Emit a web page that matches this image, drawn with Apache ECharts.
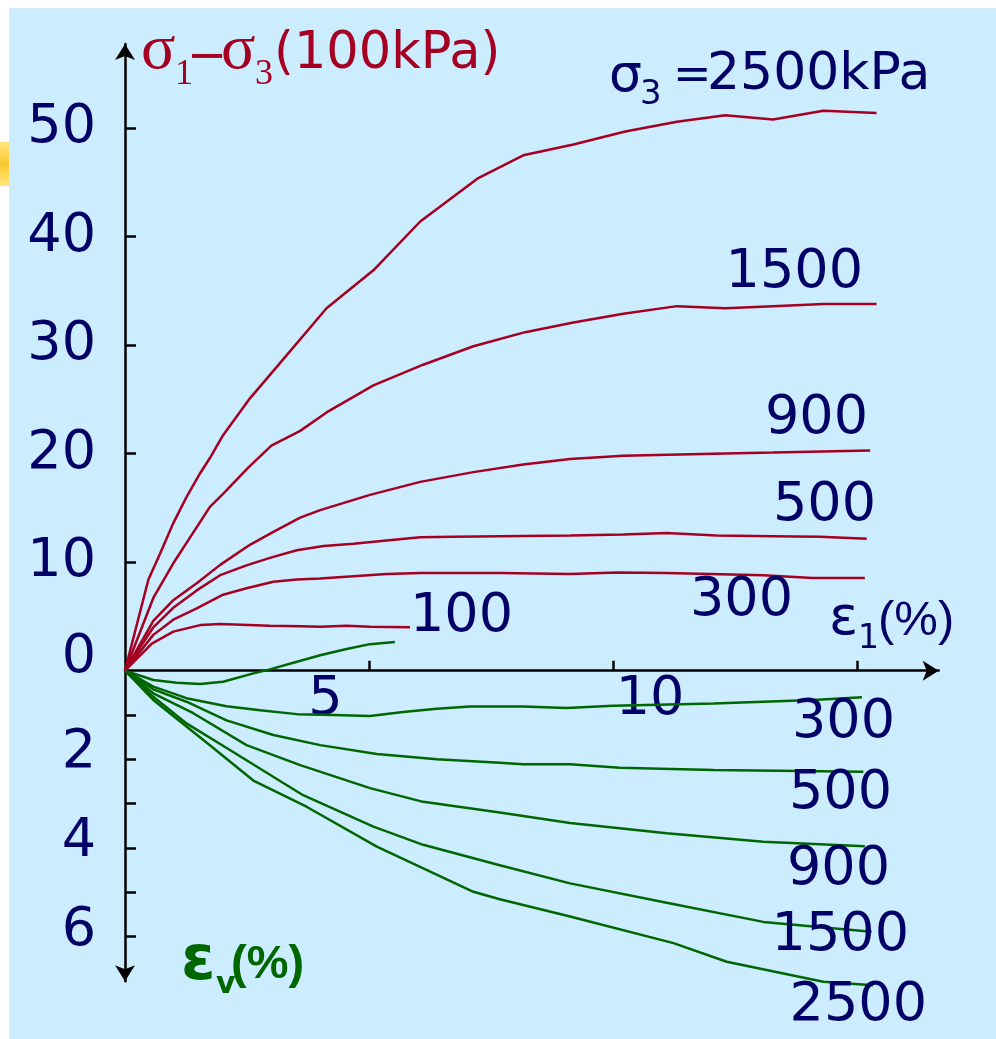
<!DOCTYPE html>
<html><head><meta charset="utf-8">
<script src="https://cdn.jsdelivr.net/npm/echarts@6/dist/echarts.min.js"></script>
<style>html,body{margin:0;padding:0;background:#fff}#c{width:996px;height:1039px}</style>
</head><body><div id="c"></div>
<script>
// ---- data: [axial strain ε1 (%), value] ----
// deviator stress σ1−σ3 (100 kPa)
const q100  = [[0,0],[0.55,2.5],[0.99,3.6],[1.54,4.2],[1.95,4.3],[2.97,4.15],[3.59,4.1],[4.0,4.05],[4.54,4.15],[5.02,4.05],[5.84,4.0]];
const q300  = [[0,0],[0.58,3.3],[0.99,4.7],[1.47,5.75],[2.01,7.0],[2.49,7.6],[3.04,8.2],[3.52,8.4],[4.0,8.5],[4.68,8.7],[5.36,8.9],[6.05,9.0],[7.68,9.0],[9.12,8.9],[10.08,9.05],[11.1,9.0],[13.08,8.8],[14.1,8.55],[15.16,8.55]];
const q500  = [[0,0],[0.58,4.0],[0.99,5.8],[1.47,7.4],[1.95,8.8],[2.49,9.7],[2.97,10.4],[3.52,11.1],[4.07,11.5],[4.68,11.7],[5.36,12.0],[6.05,12.3],[6.73,12.35],[7.68,12.4],[9.12,12.45],[10.21,12.55],[11.1,12.7],[12.12,12.45],[13.28,12.4],[14.24,12.35],[15.2,12.15]];
const q900  = [[0,0],[0.58,4.6],[0.99,6.5],[1.47,8.05],[1.95,9.75],[2.56,11.6],[3.04,12.8],[3.59,14.1],[4.0,14.8],[5.02,16.2],[6.05,17.4],[7.14,18.3],[8.16,19.0],[9.12,19.5],[10.21,19.8],[12.06,20.0],[13.28,20.1],[15.27,20.3]];
const q1500 = [[0,0],[0.58,6.7],[0.99,9.9],[1.74,15.1],[2.01,16.3],[2.52,18.7],[3.0,20.75],[3.59,22.1],[4.13,23.8],[5.09,26.3],[6.11,28.2],[7.14,29.9],[8.2,31.2],[9.19,32.1],[10.21,32.9],[11.31,33.6],[12.3,33.4],[13.28,33.6],[14.31,33.8],[15.4,33.8]];
const q2500 = [[0,0],[0.48,8.4],[0.72,10.8],[0.99,13.6],[1.26,16.0],[1.54,18.2],[1.74,19.6],[2.01,21.7],[2.56,25.1],[3.11,28.0],[4.13,33.4],[5.09,36.9],[6.05,41.4],[7.24,45.4],[8.16,47.5],[9.19,48.5],[10.25,49.7],[11.31,50.6],[12.3,51.2],[13.28,50.8],[14.31,51.6],[15.4,51.4]];
// volumetric strain εv (%), compression positive (downward)
const v100  = [[0,0],[0.58,0.21],[1.06,0.27],[1.54,0.30],[2.01,0.25],[2.63,0.06],[2.97,-0.03],[3.45,-0.18],[4.0,-0.35],[4.54,-0.49],[5.02,-0.6],[5.53,-0.65]];
const v300  = [[0,0],[0.58,0.36],[1.26,0.62],[2.08,0.80],[2.77,0.89],[3.52,0.98],[4.27,1.0],[5.02,1.02],[5.7,0.93],[6.39,0.86],[7.07,0.81],[7.68,0.81],[8.16,0.81],[9.05,0.84],[10.0,0.79],[12.06,0.74],[14.1,0.66],[15.1,0.6]];
const v500  = [[0,0],[0.58,0.42],[1.26,0.70],[2.08,1.12],[3.04,1.45],[4.0,1.68],[5.16,1.88],[6.39,2.0],[7.68,2.08],[8.16,2.11],[9.12,2.11],[10.14,2.19],[12.06,2.24],[15.13,2.28]];
const v900  = [[0,0],[0.58,0.51],[1.4,0.96],[2.49,1.68],[3.59,2.13],[5.02,2.65],[6.11,2.96],[7.68,3.2],[9.12,3.44],[11.1,3.67],[13.08,3.86],[15.16,3.96]];
const v1500 = [[0,0],[0.58,0.59],[1.26,1.19],[2.15,1.79],[3.65,2.81],[5.09,3.52],[6.11,3.93],[7.68,4.39],[9.12,4.8],[11.1,5.24],[13.08,5.67],[15.3,5.89]];
const v2500 = [[0,0],[0.58,0.66],[1.6,1.56],[2.63,2.48],[3.72,3.07],[5.16,3.97],[6.32,4.57],[7.14,4.99],[7.68,5.16],[9.12,5.55],[11.24,6.15],[12.33,6.57],[14.31,7.02],[15.33,7.1]];

const confining = ['100','300','500','900','1500','2500'];
const stressData = [q100,q300,q500,q900,q1500,q2500];
const volData    = [v100,v300,v500,v900,v1500,v2500];

const xTicks = [5,10,15];
const xTickLabels = [5,10];
const qTicks = [10,20,30,40,50];
const qTickLabels = [0,10,20,30,40,50];
const vTicks = [1,2,3,4,5,6];
const vTickLabels = [2,4,6];

// ---- style ----
const RED = '#A50021', GREEN = '#006600', NAVY = '#000066';
const SANS = 'DejaVu Sans', SERIF = 'Liberation Serif';
const LBL = 54;

const chart = echarts.init(document.getElementById('c'));

function txt(text, x, y, size, fill, opts) {
  return {type:'text', z:100, style: Object.assign({
    text, x, y, fill, fontSize:size, fontFamily:SANS, align:'left', verticalAlign:'middle'
  }, opts||{})};
}

const graphic = [
  {type:'rect', z:-100, shape:{x:9,y:8,width:987,height:1031}, style:{fill:'#CCECFF'}},
  {type:'rect', z:-100, shape:{x:0,y:142,width:9,height:44},
   style:{fill:new echarts.graphic.LinearGradient(0,0,0,1,[{offset:0,color:'#FFE680'},{offset:0.5,color:'#F9C92E'},{offset:1,color:'#FFE680'}])}},
  // y title (red)
  txt('σ',141,51,64,RED,{fontFamily:SERIF}),
  txt('1',175,75,36,RED,{fontFamily:SERIF}),
  txt('−',187,59,48,RED),
  txt('σ',221,51,64,RED,{fontFamily:SERIF}),
  txt('3',255,75,36,RED,{fontFamily:SERIF}),
  txt('(100kPa)',274,55,51,RED),
  // σ3 = 2500kPa
  txt('σ',609,77,52,NAVY),
  txt('3',640,95,34,NAVY),
  txt('=',673,77,46,NAVY),
  txt('2500kPa',707,75,52,NAVY),
  // ε1(%)
  txt('ε',829,620,54,NAVY),
  txt('1',858,639,33,NAVY),
  txt('(%)',878,621,49,NAVY,{fontFamily:'Liberation Sans'}),
  // εv(%)
  txt('ε',181,963,62,GREEN,{fontWeight:'bold'}),
  txt('v',216,985,30,GREEN,{fontWeight:'bold'}),
  txt('(%)',231,965,47,GREEN,{fontWeight:'bold',fontFamily:'Liberation Sans'})
];

// curve labels (right edge x, centre y)
const stressLabelPos = [[513,617],[793,601],[876,506],[868,419],[863,273],null];
const volLabelPos = [null,[895,723],[892,794],[890,870],[909,936],[927,1006]];
confining.forEach((c,i)=>{
  if (stressLabelPos[i]) graphic.push(txt(c, stressLabelPos[i][0], stressLabelPos[i][1], LBL, NAVY, {align:'right'}));
  if (volLabelPos[i]) graphic.push(txt(c, volLabelPos[i][0], volLabelPos[i][1], LBL, NAVY, {align:'right'}));
});

const axisLineStyle = {color:'#000', width:2.5};
const labelBase = {color:NAVY, fontSize:LBL, fontFamily:SANS};

const series = [];
confining.forEach((c,i)=>{
  series.push({type:'line', name:'q'+c, data:stressData[i], xAxisIndex:0, yAxisIndex:0,
    symbol:'none', clip:false, lineStyle:{color:RED, width:2.5}, z:3});
  series.push({type:'line', name:'v'+c, data:volData[i], xAxisIndex:0, yAxisIndex:1,
    symbol:'none', clip:false, lineStyle:{color:GREEN, width:2.5}, z:3});
});

chart.setOption({
  animation:false,
  backgroundColor:'#ffffff',
  grid:{left:125, right:57.3, top:44, bottom:57.7, containLabel:false},
  xAxis:{type:'value', min:0, max:16.674,
    axisLine:{show:true, onZero:true, onZeroAxisIndex:0, symbol:['none','arrow'], symbolSize:[15,16], lineStyle:axisLineStyle},
    axisTick:{show:true, inside:true, length:10, customValues:xTicks, lineStyle:{color:'#000', width:2.5}},
    axisLabel:{show:true, customValues:xTickLabels, margin:-308, ...labelBase,
      formatter:v=> v===5 ? '{a|5}' : '{b|'+v+'}',
      rich:{a:{...labelBase, padding:[0,87,0,0]}, b:{...labelBase, padding:[0,0,0,74]}}},
    splitLine:{show:false}},
  yAxis:[
    {type:'value', min:-28.63, max:57.76, position:'left',
      axisLine:{show:true, onZero:false, symbol:['arrow','arrow'], symbolSize:[15,16], lineStyle:axisLineStyle},
      axisTick:{show:true, inside:true, length:11, customValues:qTicks, lineStyle:{color:'#000', width:2.5}},
      axisLabel:{show:true, customValues:qTickLabels, margin:29, ...labelBase,
        formatter:v=> v===0 ? '{z|0}' : '{n|'+v+'}',
        rich:{z:{...labelBase, padding:[0,0,26,0]}, n:{...labelBase}}},
      splitLine:{show:false}},
    {type:'value', min:-14.147, max:7.011, inverse:true, position:'left', offset:0,
      axisLine:{show:false, onZero:false},
      axisTick:{show:true, inside:true, length:11, customValues:vTicks, lineStyle:{color:'#000', width:2.5}},
      axisLabel:{show:true, customValues:vTickLabels, margin:29, ...labelBase,
        formatter:v=> '{n|'+v+'}',
        rich:{n:{...labelBase, padding:[0,0,12,0]}}},
      splitLine:{show:false}}
  ],
  graphic,
  series
});
</script></body></html>
